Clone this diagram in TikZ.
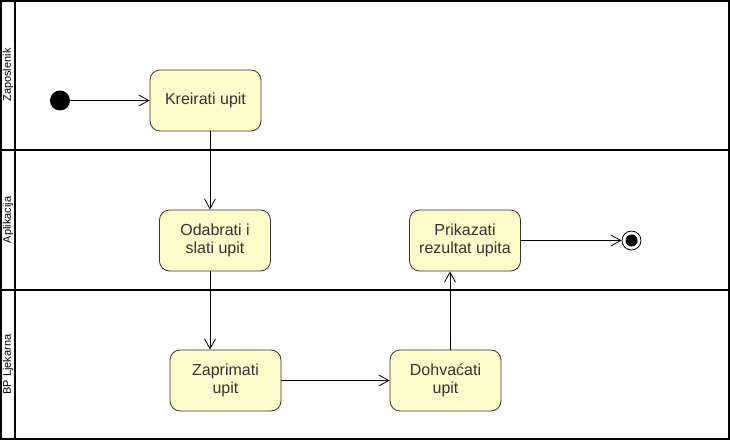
\documentclass[tikz,border=0pt]{standalone}
\usepackage{fontspec}
\setmainfont{Liberation Sans}
\usetikzlibrary{arrows.meta}
\tikzset{
  akcija/.style={draw=black!80,fill=yellow!20,rounded corners=10pt,minimum width=111pt,
    minimum height=61pt,align=center,text=black!80,font=\fontsize{16}{18.5}\selectfont},
  staza/.style={rotate=90,font=\fontsize{11}{13}\selectfont},
}
\begin{document}
\begin{tikzpicture}[x=1pt,y=-1pt,line width=0.8pt,>={Straight Barb[length=10pt,width=11pt]}]
\useasboundingbox (0,0) rectangle (731,441);
% staze
\draw[line width=2pt] (1,1) rectangle (729,439);
\draw[line width=2pt] (15,1) -- (15,439);
\draw[line width=2pt] (1,150) -- (729,150);
\draw[line width=2pt] (1,290) -- (729,290);
\path
(8,75)    node[staza] (zap) {Zaposlenik}
(8,220)   node[staza] (apl) {Aplikacija}
(8,364.5) node[staza] (bp) {BP Ljekarna};
% akcije
\path
(60,100.5)    node[circle,fill,inner sep=0pt,minimum size=20pt] (start) {}
(205.5,100.5) node[akcija] (kreirati) {Kreirati upit}
(215,240.5)   node[akcija] (odabrati) {Odabrati i\\slati upit}
(465,240.5)   node[akcija] (prikazati) {Prikazati\\rezultat upita}
(225.5,380.5) node[akcija] (zaprimati) {Zaprimati\\upit}
(445.5,380.5) node[akcija] (dohvacati) {Dohvaćati\\upit}
(631.5,240.5) node[circle,draw,inner sep=0pt,minimum size=19pt,
  path picture={\fill (path picture bounding box.center) circle (6pt);}] (kraj) {};
\draw[->] (start)--(kreirati);
\draw[->] ([xshift=4.5pt]kreirati.south)--([xshift=-5pt]odabrati.north);
\draw[->] ([xshift=-5pt]odabrati.south)--([xshift=-15.5pt]zaprimati.north);
\draw[->] (zaprimati)--(dohvacati);
\draw[->] ([xshift=4.5pt]dohvacati.north)--([xshift=-15pt]prikazati.south);
\draw[->] (prikazati)--(kraj);
\end{tikzpicture}
\end{document}
